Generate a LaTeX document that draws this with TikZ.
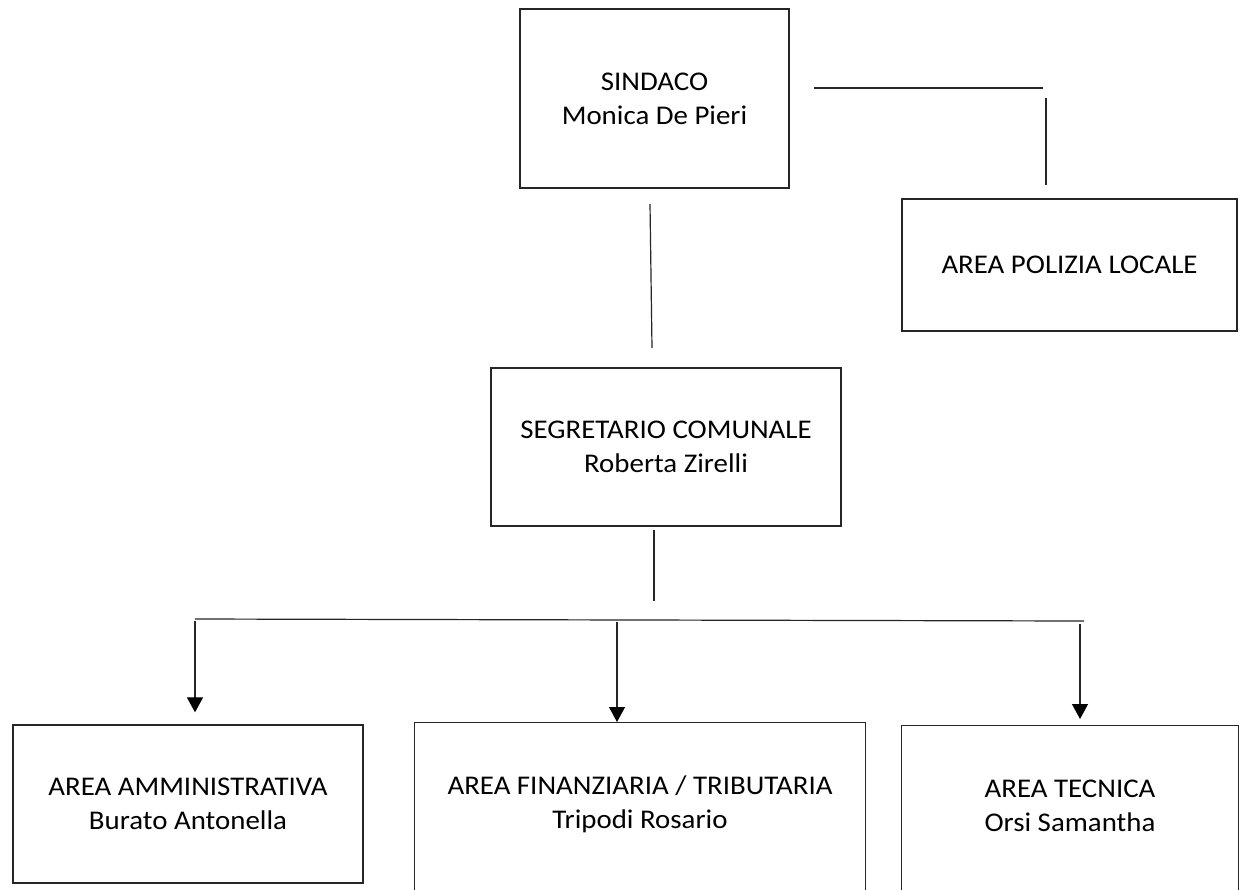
\documentclass[tikz,border=0pt]{standalone}
\usepackage{fontspec}
\setmainfont{Carlito}[FakeStretch=1.07]
\usetikzlibrary{arrows.meta,calc}
\tikzset{
  orgbox/.style={draw=black!85, line width=1.3pt, fill=white, inner sep=0pt, align=center, font=\fontsize{27}{34}\selectfont},
  boxtext/.style={inner sep=0pt, align=center, font=\fontsize{27}{34}\selectfont},
  conn/.style={draw=black!85, line width=1.2pt},
  arr/.style={conn, -{Triangle[width=16pt,length=15pt,fill=black,color=black]}}
}
\begin{document}
\begin{tikzpicture}[x=1pt,y=-1pt]
\useasboundingbox (0,0) rectangle (1241,889);
\clip (0,0) rectangle (1241,889);
\fill[white] (0,0) rectangle (1241,889);

% boxes
\node[orgbox, minimum width=269pt, minimum height=179pt] (sindaco) at (654.5,98.5) {SINDACO\\Monica De Pieri};
\node[orgbox, minimum width=335pt, minimum height=132pt] (polizia) at (1069.5,265) {AREA POLIZIA LOCALE};
\node[orgbox, minimum width=350pt, minimum height=158pt] (segretario) at (666,447) {SEGRETARIO COMUNALE\\Roberta Zirelli};
\node[orgbox, minimum width=350pt, minimum height=158pt] (amm) at (188,804) {AREA AMMINISTRATIVA\\Burato Antonella};
\node[orgbox, minimum width=451pt, minimum height=190pt, anchor=north west] (fin) at (414,722) {};
\node[boxtext] (fintext) at (640,804) {AREA FINANZIARIA / TRIBUTARIA\\Tripodi Rosario};
\node[orgbox, minimum width=337pt, minimum height=190pt, anchor=north west] (tec) at (901,725) {};
\node[boxtext] (tectext) at (1070,806) {AREA TECNICA\\Orsi Samantha};

% free line ends
\coordinate (s1) at (814,88);
\coordinate (s2) at (1043,88);
\coordinate (p1) at (1046,98);
\coordinate (p2) at (1046,185);
\coordinate (v1) at (650,204);
\coordinate (v2) at (652,348);
\coordinate (g1) at (654,530);
\coordinate (g2) at (654,601);
\coordinate (b1) at (195,619);
\coordinate (b2) at (1084,621);
\coordinate (a1) at (195,621);
\coordinate (a2) at (617,622);
\coordinate (a3) at (1080,624);

% connectors
\draw[conn] (s1) -- (s2);
\draw[conn] (p1) -- (p2);
\draw[conn] (v1) -- (v2);
\draw[conn] (g1) -- (g2);
\draw[conn] (b1) -- (b2);
\draw[arr] (a1) -- ($(amm.north -| a1)+(0,-12)$);
\draw[arr] (a2) -- (fin.north -| a2);
\draw[arr] (a3) -- ($(tec.north -| a3)+(0,-6)$);
\end{tikzpicture}
\end{document}
